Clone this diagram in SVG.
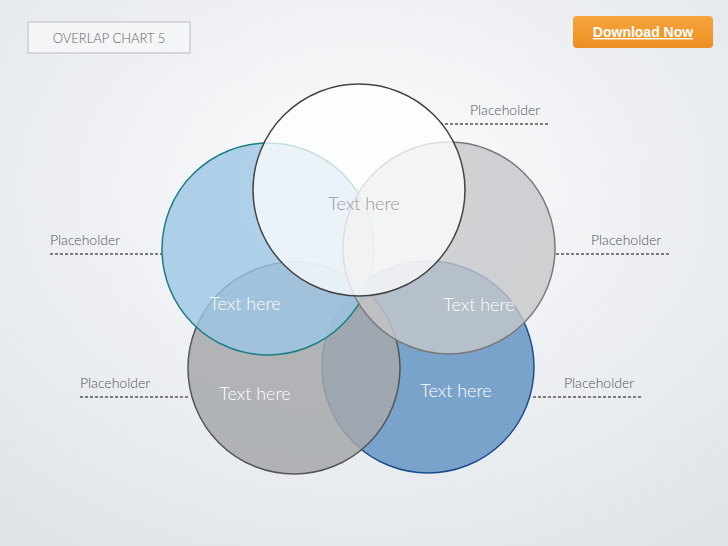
<svg xmlns="http://www.w3.org/2000/svg" width="728" height="546" viewBox="0 0 728 546">
<defs>
<radialGradient id="bg" cx="0.5" cy="0.35" r="0.8"><stop offset="0" stop-color="#fbfcfd"/><stop offset="1" stop-color="#dfe3e8"/></radialGradient>
<linearGradient id="or" x1="0" y1="0" x2="0" y2="1"><stop offset="0" stop-color="#f6a43c"/><stop offset="1" stop-color="#ec8f22"/></linearGradient>
<style>
.lbl{font-family:"Lato","Open Sans",sans-serif;font-size:14px;font-weight:300;fill:#555}
.th{font-family:"Lato","Open Sans",sans-serif;font-size:18px;font-weight:300;fill:#fff;text-anchor:middle}
.dash{stroke:#555;stroke-width:1.5;stroke-dasharray:3 2;fill:none}
</style>
</defs>
<rect width="728" height="546" fill="url(#bg)"/>
<g id="title"><rect x="28" y="22" width="162" height="31" fill="#f4f5f6" stroke="#b9bcc0"/><text x="109" y="43" text-anchor="middle" style="font-family:'Lato',sans-serif;font-size:13px;font-weight:300;fill:#666">OVERLAP CHART 5</text></g>
<g id="download"><rect x="573" y="16" width="140" height="32" rx="4" fill="url(#or)"/><text x="643" y="37" text-anchor="middle" style="font-family:'Liberation Sans',sans-serif;font-size:14px;font-weight:bold;fill:#fff;text-decoration:underline">Download Now</text></g>
<g id="connectors">
<line class="dash" x1="440" y1="124" x2="550" y2="124"/>
<line class="dash" x1="50" y1="254" x2="162" y2="254"/>
<line class="dash" x1="556" y1="254" x2="670" y2="254"/>
<line class="dash" x1="80" y1="397" x2="190" y2="397"/>
<line class="dash" x1="533" y1="397" x2="642" y2="397"/>
</g>
<g id="labels">
<text class="lbl" x="470" y="115">Placeholder</text>
<text class="lbl" x="50" y="245">Placeholder</text>
<text class="lbl" x="591" y="245">Placeholder</text>
<text class="lbl" x="80" y="388">Placeholder</text>
<text class="lbl" x="564" y="388">Placeholder</text>
</g>
<g id="c-br"><circle cx="428" cy="367" r="106" fill="#7aa3cc" stroke="#1e4d8c" stroke-width="1.5"/></g>
<g id="c-bl"><circle cx="294" cy="368" r="106" fill="#a6a8aa" fill-opacity="0.85" stroke="#555" stroke-width="1.5"/></g>
<g id="c-l"><circle cx="268" cy="249" r="106" fill="#9cc6e4" fill-opacity="0.8" stroke="#1a7f86" stroke-width="1.5"/></g>
<g id="c-r"><circle cx="449" cy="248" r="106" fill="#c6c7c9" fill-opacity="0.8" stroke="#7a7a7a" stroke-width="1.5"/></g>
<g id="c-top"><circle cx="359" cy="190" r="106" fill="#ffffff" fill-opacity="0.75" stroke="#444" stroke-width="1.5"/></g>
<g id="texts">
<text class="th" x="364" y="210" style="fill:#999">Text here</text>
<text class="th" x="245" y="310">Text here</text>
<text class="th" x="479" y="311">Text here</text>
<text class="th" x="255" y="400">Text here</text>
<text class="th" x="456" y="397">Text here</text>
</g>
</svg>
